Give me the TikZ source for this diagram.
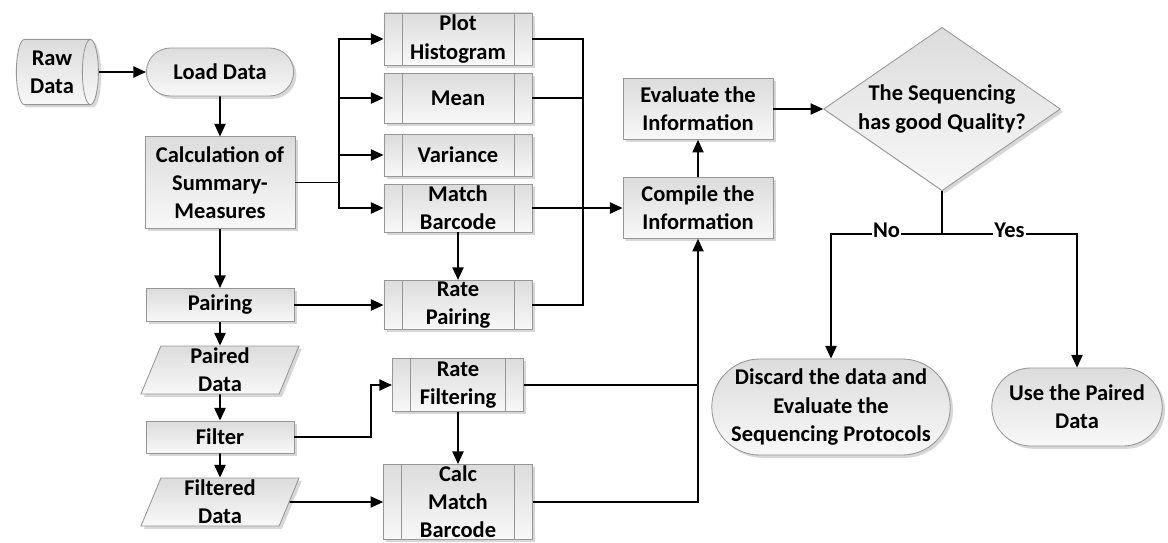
\documentclass[tikz,border=0pt]{standalone}
\usepackage{fontspec}
\setmainfont{Carlito}
\usepackage{tikz}
\usetikzlibrary{arrows.meta,shapes,positioning,shadows}
\usepackage{xcolor}
\definecolor{fcborder}{RGB}{150,150,150}
\definecolor{fctop}{RGB}{220,220,220}
\definecolor{fcbottom}{RGB}{248,248,248}
\definecolor{fcshadow}{RGB}{175,175,175}
\tikzstyle{arrow} = [line width=1.1pt,->,>={Triangle[length=9pt,width=8pt]}]
\tikzstyle{line} = [line width=1.1pt]
\tikzstyle{base} = [draw=fcborder, line width=0.6pt, top color=fctop, bottom color=fcbottom, text centered, align=center, inner sep=1pt, font=\bfseries\fontsize{16}{20}\selectfont, drop shadow={shadow xshift=2pt, shadow yshift=-2pt, fill=fcshadow}]
\tikzstyle{procbox} = [base, rectangle, minimum width=3.75cm]
\tikzstyle{subbox} = [procbox, minimum width=3.7cm, minimum height=1.3cm, path picture={
  \draw[fcborder, line width=0.6pt] ([xshift=0.45cm]path picture bounding box.north west) -- ([xshift=0.45cm]path picture bounding box.south west);
  \draw[fcborder, line width=0.6pt] ([xshift=-0.45cm]path picture bounding box.north east) -- ([xshift=-0.45cm]path picture bounding box.south east);}]
\tikzstyle{terminal} = [base, rounded rectangle]
\tikzstyle{iobox} = [base, trapezium, trapezium left angle=67, trapezium right angle=113, trapezium stretches body, minimum width=3.95cm, minimum height=1.2cm]
\tikzstyle{lbl} = [fill=white, inner sep=1pt, yshift=3pt, font=\bfseries\fontsize{16}{20}\selectfont]

\begin{document}
\begin{tikzpicture}[x=0.025cm, y=-0.025cm]
\useasboundingbox (0,0) rectangle (1168,542);
% left column
\node[base, cylinder, aspect=0.35, minimum width=1.63cm, minimum height=2.05cm] (raw) at (52,72) {Raw\\Data};
\node[terminal, minimum width=3.75cm, minimum height=1.2cm] (load) at (220,72) {Load Data};
\node[procbox, minimum height=2.28cm, below=1cm of load] (calc) {Calculation of\\Summary-\\Measures};
\node[procbox, minimum width=3.7cm, minimum height=0.83cm] (pairing) at (220,305) {Pairing};
\node[iobox] (paired) at (220,370) {Paired\\Data};
\node[procbox, minimum width=3.7cm, minimum height=0.8cm] (filter) at (220,437) {Filter};
\node[iobox] (filtered) at (220,502) {Filtered\\Data};
% sub-processes
\node[subbox] (hist) at (458,39) {Plot\\Histogram};
\node[subbox, minimum height=1.25cm] (mean) at (458,98) {Mean};
\node[subbox, minimum height=1.05cm] (var) at (458,155) {Variance};
\node[subbox, minimum height=1.2cm] (match) at (458,208) {Match\\Barcode};
\node[subbox, minimum height=1.2cm] (ratep) at (458,305) {Rate\\Pairing};
\node[subbox, minimum width=3.28cm, minimum height=1.32cm] (ratef) at (458,385) {Rate\\Filtering};
\node[subbox, minimum width=3.72cm, minimum height=1.83cm] (calcm) at (458,502) {Calc\\Match\\Barcode};
% right part
\node[procbox, minimum height=1.52cm] (compile) at (698,208) {Compile the\\Information};
\node[procbox, minimum height=1.52cm] (eval) at (698,109) {Evaluate the\\Information};
\node[base, diamond, aspect=1.45, inner sep=0pt] (quality) at (942,109) {The Sequencing\\has good Quality?};
\node[terminal, minimum width=6.03cm, minimum height=2.4cm] (discard) at (831,407) {Discard the data and\\Evaluate the\\Sequencing Protocols};
\node[terminal, minimum width=4.33cm, minimum height=1.95cm] (usepaired) at (1077,407) {Use the Paired\\Data};
\coordinate (fork) at (339,182);
\coordinate (collect) at (583,208);
\coordinate (branch) at (942,234);

\draw[arrow] (raw) -- (load);
\draw[arrow] (load) -- (calc);
\draw[line] (calc.east) -- (calc.east -| fork);
\foreach \n in {hist,mean,var,match}
  \draw[arrow] (calc.east -| fork) |- (\n);
\draw[arrow] (calc) -- (pairing);
\draw[arrow] (pairing) -- (paired);
\draw[arrow] (paired) -- (filter);
\draw[arrow] (filter) -- (filtered);
\draw[arrow] (match) -- (ratep);
\draw[arrow] (pairing) -- (ratep);
\foreach \n in {hist,mean,ratep}
  \draw[line] (\n) -| (collect);
\draw[arrow] (match) -- (compile);
\draw[arrow] (filter.east) -- ++(1.92cm,0) |- (ratef.west);
\draw[arrow] (ratef) -- (calcm);
\draw[arrow] (filtered) -- (calcm);
\draw[line] (ratef.east) -- (ratef.east -| compile.south);
\draw[arrow] (calcm.east) -| (compile.south);
\draw[arrow] (compile) -- (eval);
\draw[arrow] (eval) -- (quality);
\draw[line] (quality.south) -- (branch);
\draw[arrow] (branch) -| node[lbl, pos=0.25] {No} (discard.north);
\draw[arrow] (branch) -| node[lbl, pos=0.25] {Yes} (usepaired.north);
\end{tikzpicture}
\end{document}
